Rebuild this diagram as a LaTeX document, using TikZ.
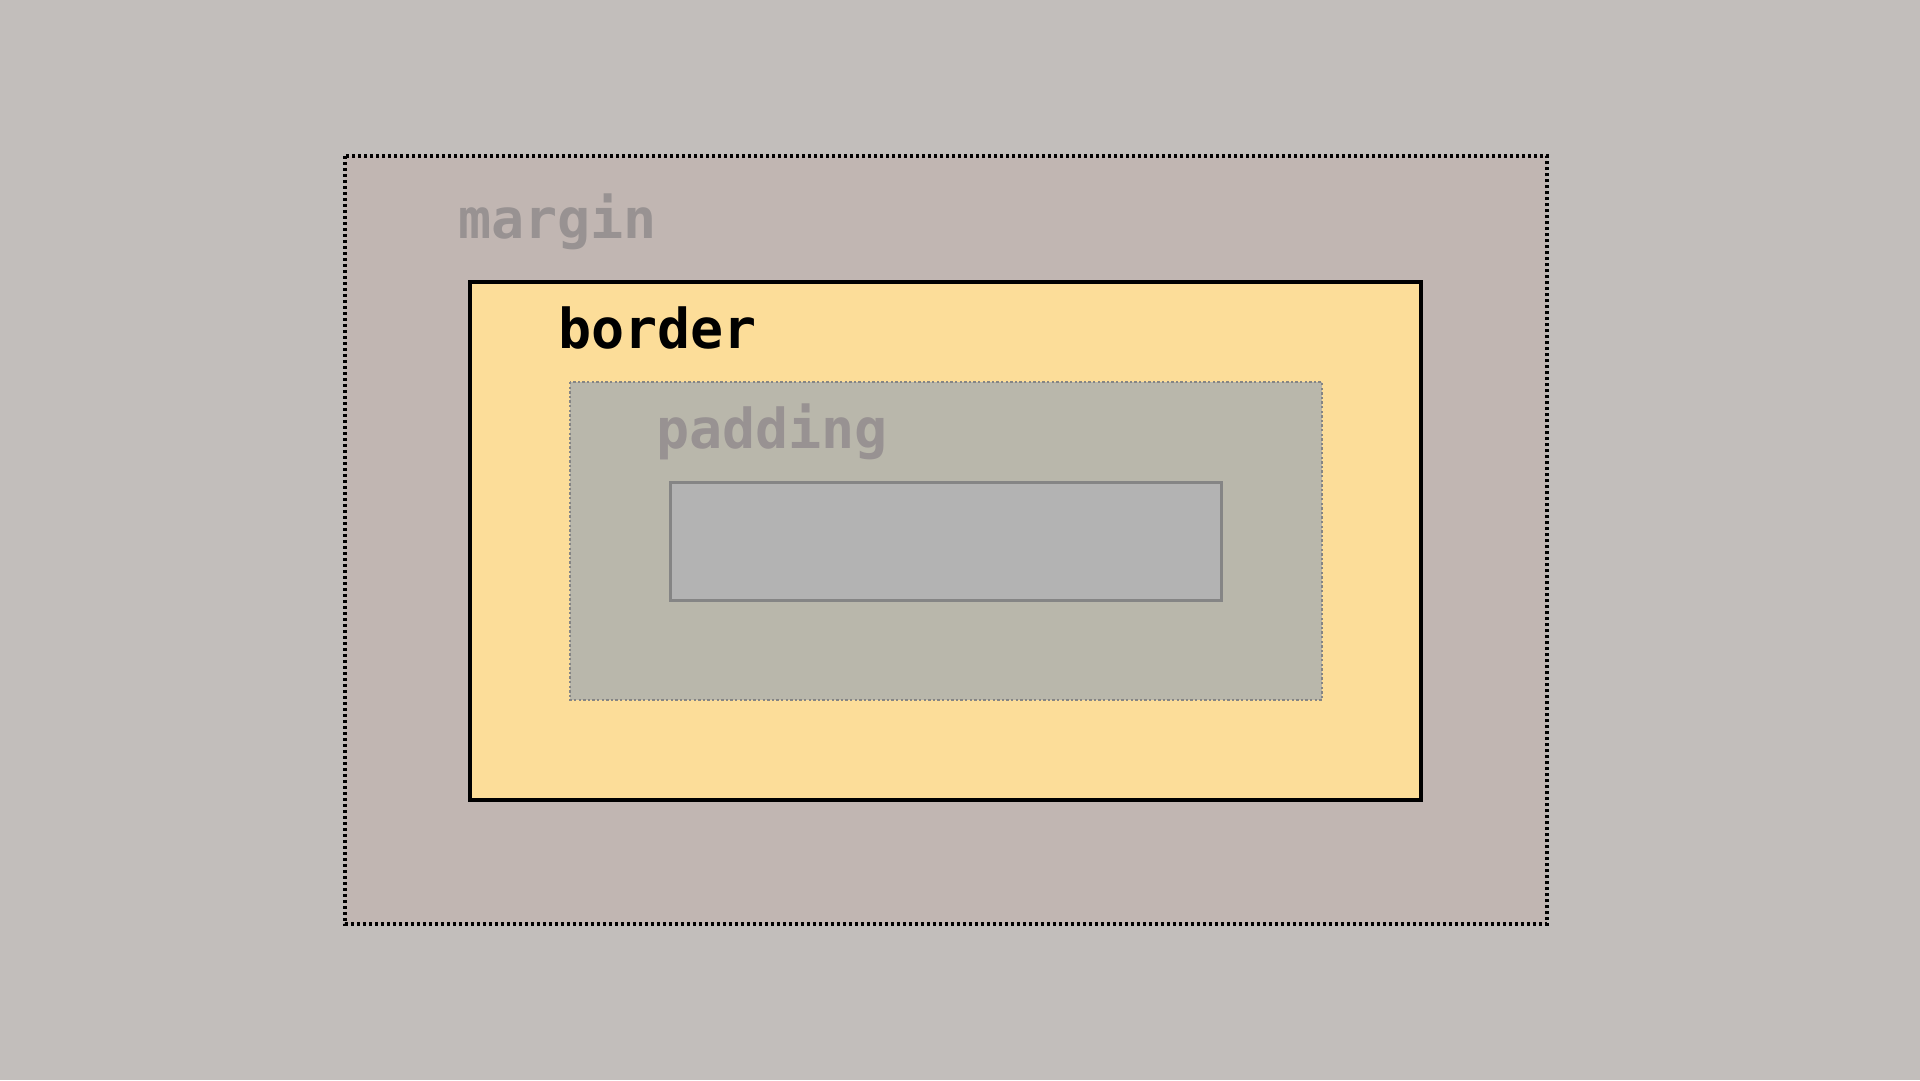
\documentclass[tikz,border=0pt]{standalone}
\usepackage{fontspec}
\setmonofont{DejaVu Sans Mono}
\definecolor{pagebg}{HTML}{C2BEBB}
\definecolor{marginfill}{HTML}{C1B6B2}
\definecolor{borderfill}{HTML}{FCDD99}
\definecolor{paddingfill}{HTML}{B9B7AB}
\definecolor{contentfill}{HTML}{B3B3B3}
\definecolor{labelgray}{HTML}{989292}
\definecolor{linegray}{HTML}{858585}
\tikzset{
  boxlabel/.style={anchor=base west, inner sep=0pt, font=\ttfamily\bfseries\fontsize{55}{64}\selectfont},
  marginbox/.style={fill=marginfill, draw=black, line width=3.2pt, dash pattern=on 3pt off 3pt},
  borderbox/.style={fill=borderfill, draw=black, line width=3.4pt},
  paddingbox/.style={fill=paddingfill, draw=linegray, line width=2.6pt, dash pattern=on 2.4pt off 2.2pt},
  contentbox/.style={fill=contentfill, draw=linegray, line width=3pt}
}
\begin{document}
\begin{tikzpicture}[x=1pt, y=-1pt]
  % page background
  \fill[pagebg] (0,0) rectangle (1920,1080);
  \useasboundingbox (0,0) rectangle (1920,1080);
  % nested boxes, outermost first
  \draw[marginbox] (345,156) rectangle (1547,924);
  \draw[borderbox] (470,282) rectangle (1421,800);
  \draw[paddingbox] (570,382) rectangle (1322,700);
  \draw[contentbox] (670,482) rectangle (1221,600);
  % labels
  \node[boxlabel, text=labelgray] (lmargin) at (458,238) {margin};
  \node[boxlabel, text=black] (lborder) at (558,348) {border};
  \node[boxlabel, text=labelgray] (lpadding) at (656,448) {padding};
\end{tikzpicture}
\end{document}
